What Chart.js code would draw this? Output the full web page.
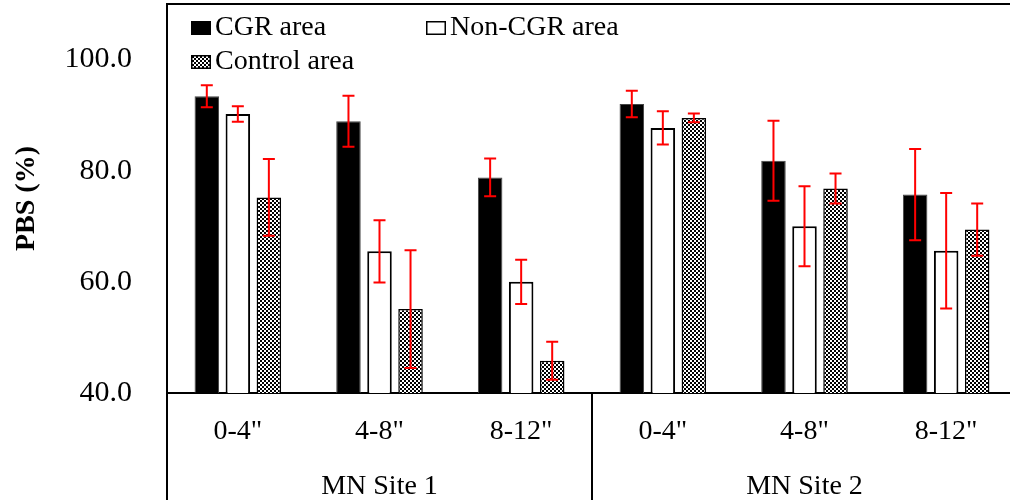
<!DOCTYPE html>
<html>
<head>
<meta charset="utf-8">
<script src="https://cdn.jsdelivr.net/npm/chart.js@4.4.1/dist/chart.umd.min.js"></script>
<style>
  body { margin: 0; background: #fff; }
  #wrap { width: 1010px; height: 500px; overflow: hidden; }
</style>
</head>
<body>
<div id="wrap"><canvas id="pbsChart" width="1018" height="500"></canvas></div>
<script>
const depthLabels = ['0-4"', '4-8"', '8-12"', '0-4"', '4-8"', '8-12"'];
const siteLabels = ['MN Site 1', 'MN Site 2'];
const seriesNames = ['CGR area', 'Non-CGR area', 'Control area'];

const cgrValues = [93.4, 88.9, 78.8, 92.0, 81.8, 75.7];
const cgrErrors = [2.0, 4.6, 3.4, 2.4, 7.2, 8.2];
const nonCgrValues = [90.2, 65.5, 60.0, 87.7, 70.0, 65.6];
const nonCgrErrors = [1.4, 5.6, 4.0, 3.0, 7.2, 10.4];
const controlValues = [75.2, 55.1, 45.8, 89.5, 76.8, 69.4];
const controlErrors = [6.9, 10.6, 3.4, 0.8, 2.7, 4.7];

const serif = "'Liberation Serif', 'DejaVu Serif', serif";
Chart.defaults.color = '#000';

// small checkerboard used for the control bars
function checkerPattern() {
    const c = document.createElement('canvas');
    c.width = 4;
    c.height = 4;
    const g = c.getContext('2d');
    g.fillStyle = '#fff';
    g.fillRect(0, 0, 4, 4);
    g.fillStyle = '#000';
    g.fillRect(0, 0, 2, 2);
    g.fillRect(2, 2, 2, 2);
    return g.createPattern(c, 'repeat');
}
const checker = checkerPattern();

const errorBars = {
    id: 'errorBars',
    afterDatasetsDraw(chart) {
        const ctx = chart.ctx;
        const y = chart.scales.y;
        ctx.save();
        ctx.strokeStyle = '#ff0000';
        ctx.lineWidth = 2;
        chart.data.datasets.forEach((ds, i) => {
            const meta = chart.getDatasetMeta(i);
            meta.data.forEach((bar, j) => {
                const v = ds.data[j];
                const e = ds.errors[j];
                const top = y.getPixelForValue(v + e);
                const bot = y.getPixelForValue(v - e);
                ctx.beginPath();
                ctx.moveTo(bar.x, top);
                ctx.lineTo(bar.x, bot);
                ctx.moveTo(bar.x - 6, top);
                ctx.lineTo(bar.x + 6, top);
                ctx.moveTo(bar.x - 6, bot);
                ctx.lineTo(bar.x + 6, bot);
                ctx.stroke();
            });
        });
        ctx.restore();
    }
};

const frameLines = {
    id: 'frameLines',
    afterDraw(chart) {
        const ctx = chart.ctx;
        const a = chart.chartArea;
        const x = chart.scales.x;
        const mid = (x.getPixelForValue(2) + x.getPixelForValue(3)) / 2;
        ctx.save();
        ctx.strokeStyle = '#000';
        ctx.lineWidth = 2;
        ctx.beginPath();
        ctx.moveTo(a.left, a.top);
        ctx.lineTo(chart.width, a.top);
        ctx.moveTo(a.left, a.top);
        ctx.lineTo(a.left, chart.height);
        ctx.moveTo(mid, a.bottom);
        ctx.lineTo(mid, chart.height);
        ctx.stroke();
        ctx.restore();
    }
};

// legend laid out like the original: two items on the first row, one below
const legendSpots = [[191, 21], [426, 21], [191, 55]];
const boxLegend = {
    id: 'boxLegend',
    afterDraw(chart) {
        const ctx = chart.ctx;
        ctx.save();
        ctx.font = '28px ' + serif;
        ctx.textBaseline = 'alphabetic';
        chart.data.datasets.forEach((ds, i) => {
            const [bx, by] = legendSpots[i];
            ctx.fillStyle = ds.backgroundColor;
            ctx.fillRect(bx, by, 20, 14);
            ctx.strokeStyle = '#000';
            ctx.lineWidth = 1.5;
            ctx.strokeRect(bx + 0.75, by + 0.75, 18.5, 12.5);
            ctx.fillStyle = '#000';
            ctx.fillText(ds.label, bx + 24, by + 14);
        });
        ctx.restore();
    }
};

new Chart(document.getElementById('pbsChart'), {
    type: 'bar',
    data: {
        labels: depthLabels,
        datasets: [
            { label: seriesNames[0], data: cgrValues, errors: cgrErrors, backgroundColor: '#000', borderColor: '#444', borderWidth: 1 },
            { label: seriesNames[1], data: nonCgrValues, errors: nonCgrErrors, backgroundColor: '#fff', borderColor: '#000', borderWidth: 2 },
            { label: seriesNames[2], data: controlValues, errors: controlErrors, backgroundColor: checker, borderColor: '#000', borderWidth: 1.5 }
        ]
    },
    options: {
        responsive: false,
        animation: false,
        categoryPercentage: 0.657,
        barPercentage: 0.79,
        layout: { padding: { left: 0, top: 4, right: 1, bottom: 0 } },
        plugins: {
            legend: { display: false },
            tooltip: { enabled: false }
        },
        scales: {
            x: {
                grid: { display: false },
                border: { color: '#000', width: 2 },
                ticks: { font: { family: serif, size: 28 }, padding: 14, maxRotation: 0, autoSkip: false },
                afterFit: s => { s.height = 58; s.paddingLeft = 0; s.paddingRight = 0; }
            },
            x2: {
                type: 'category',
                labels: siteLabels,
                position: 'bottom',
                offset: true,
                grid: { display: false },
                border: { display: false },
                ticks: { font: { family: serif, size: 28 }, padding: 11, maxRotation: 0 },
                afterFit: s => { s.height = 49; s.paddingLeft = 0; s.paddingRight = 0; }
            },
            y: {
                min: 40,
                max: 110,
                grid: { display: false },
                border: { color: '#000', width: 2 },
                ticks: {
                    stepSize: 20,
                    padding: 27,
                    font: { family: serif, size: 30 },
                    callback: v => v.toFixed(1)
                },
                afterBuildTicks: s => { s.ticks = s.ticks.filter(t => t.value <= 100); },
                title: {
                    display: true,
                    text: 'PBS (%)',
                    font: { family: serif, size: 28, weight: 'bold' },
                    padding: { top: 10, bottom: 0 }
                },
                afterFit: s => { s.width = 167; s.paddingTop = 0; s.paddingBottom = 0; }
            }
        }
    },
    plugins: [errorBars, frameLines, boxLegend]
});
</script>
</body>
</html>
